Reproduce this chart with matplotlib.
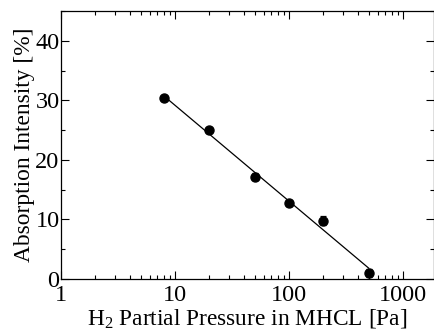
import numpy as np
import matplotlib
matplotlib.use("Agg")
import matplotlib.pyplot as plt
from matplotlib.ticker import LogLocator, MultipleLocator, FixedLocator, FixedFormatter

plt.rcParams["font.family"] = ["Liberation Serif", "DejaVu Serif"]
plt.rcParams["mathtext.fontset"] = "custom"
plt.rcParams["mathtext.rm"] = "Liberation Serif"

# data
pressure = [8, 20, 50, 100, 200, 500]          # Pa
intensity = [30.4, 25.0, 17.2, 12.7, 9.8, 1.0]  # %
err = [0.3, 0.4, 0.6, 0.5, 0.8, 0.6]

xticks = [1, 10, 100, 1000]
xticklabels = ["1", "10", "100", "1000"]
yticks = [0, 10, 20, 30, 40]

# linear fit in log10(x)
b, a = np.polyfit(np.log10(pressure), intensity, 1)
xf = np.array([pressure[0], pressure[-1]])
yf = a + b * np.log10(xf)

fig = plt.figure(figsize=(4.35, 3.3), dpi=100)
ax = fig.add_axes([61 / 435, 1 - 279 / 330, 373 / 435, 268 / 330])

ax.plot(xf, yf, color="black", lw=0.9)
ax.errorbar(pressure, intensity, yerr=err, fmt="o", color="black",
            ms=6.5, capsize=2.5, elinewidth=0.9, capthick=0.9)

ax.set_xscale("log")
ax.set_xlim(1, 1870)
ax.set_ylim(0, 45)
ax.xaxis.set_major_locator(FixedLocator(xticks))
ax.xaxis.set_major_formatter(FixedFormatter(xticklabels))
ax.xaxis.set_minor_locator(LogLocator(base=10, subs=np.arange(2, 10)))
ax.xaxis.set_minor_formatter(plt.NullFormatter())
ax.set_yticks(yticks)
ax.yaxis.set_minor_locator(MultipleLocator(5))

ax.tick_params(which="both", direction="in", top=True, right=True,
               labelsize=17.5, width=0.8)
ax.tick_params(axis="x", pad=4)
ax.tick_params(axis="y", pad=1)
ax.tick_params(which="major", length=6)
ax.tick_params(which="minor", length=3)
for s in ax.spines.values():
    s.set_linewidth(0.9)

ax.set_xlabel(r"H$_2$ Partial Pressure in MHCL [Pa]", fontsize=16.8, labelpad=1)
ax.set_ylabel("Absorption Intensity [%]", fontsize=16.8, labelpad=0)

fig.savefig("out.png", dpi=100)
